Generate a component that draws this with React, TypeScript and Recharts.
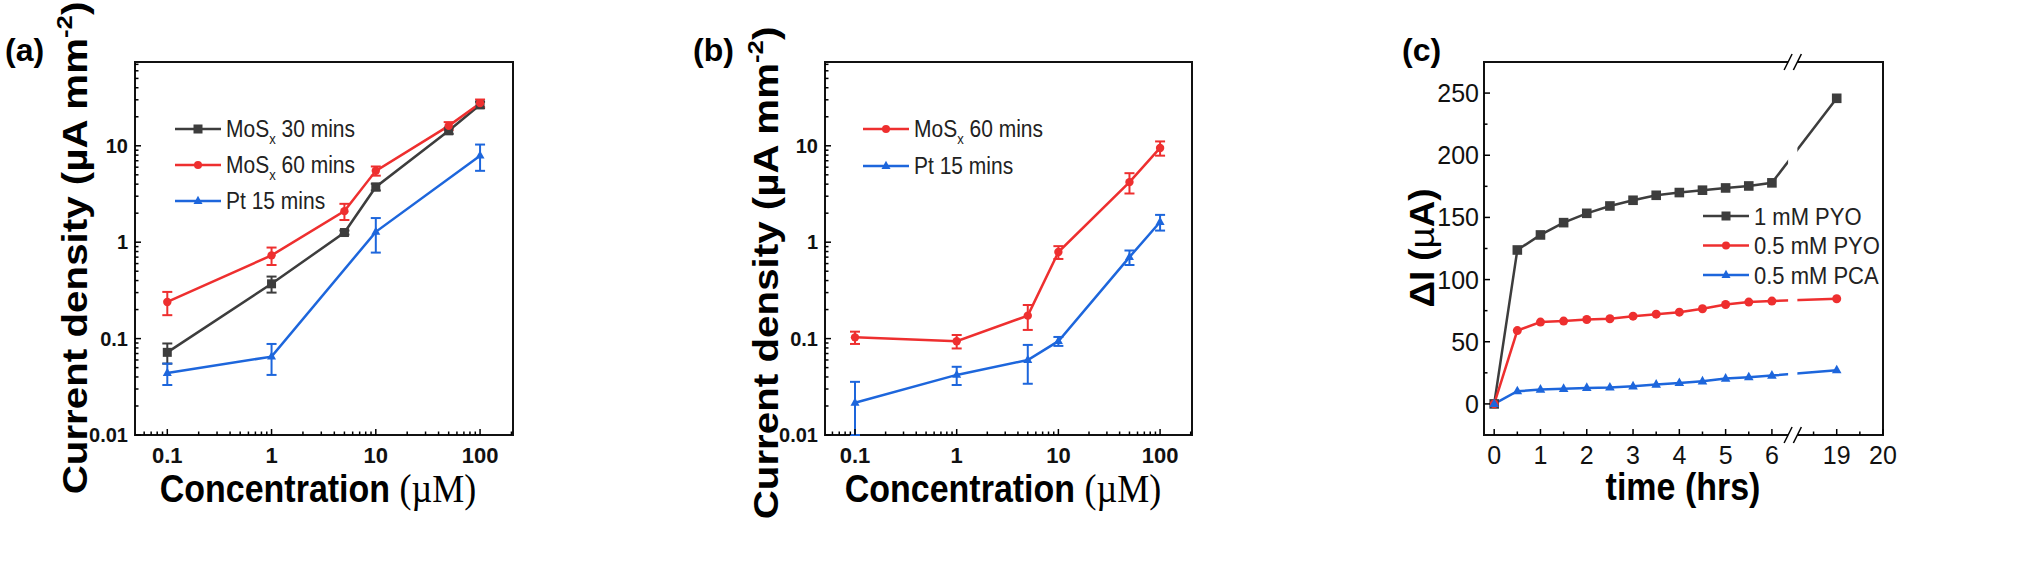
import React from "react";
import { LineChart, Line, XAxis, YAxis, ErrorBar, ReferenceArea } from "recharts";

const BLACK = "#3d3d3d";
const RED = "#ee2f2f";
const BLUE = "#1d66dc";
const SANS = "'Liberation Sans', Arial, sans-serif";
const SERIF = "'Liberation Serif', 'Times New Roman', serif";

// ---- panel (a): concentration (µM) vs current density
const concA = [0.1, 1, 5, 10, 50, 100];
const mos30A = [0.072, 0.37, 1.26, 3.74, 14.3, 26.6];
const mos30AErr = [0.017, 0.07, 0.06, 0.3, 1.0, 2.0];
const mos60A = [0.24, 0.73, 2.1, 5.5, 16.1, 27.7];
const mos60AErr = [0.065, 0.15, 0.4, 0.6, 1.5, 2.5];
const concAPt = [0.1, 1, 10, 100];
const ptA = [0.044, 0.065, 1.28, 7.9];
const ptAErr = [0.011, 0.023, 0.5, 2.4];

// ---- panel (b)
const concB = [0.1, 1, 5, 10, 50, 100];
const mos60B = [0.103, 0.094, 0.173, 0.79, 4.2, 9.5];
const mos60BErr = [0.015, 0.015, 0.05, 0.12, 1.0, 1.6];
const ptB = [0.0216, 0.042, 0.06, 0.094, 0.7, 1.62];
// first bar runs down past the axis, so only the part above 0.01 shows
const ptBErr: (number | [number, number])[] = [[0.0116, 0.014], 0.009, 0.026, 0.01, 0.12, 0.3];

// ---- panel (c): time (hrs) vs ΔI
const timeC = [0, 0.5, 1, 1.5, 2, 2.5, 3, 3.5, 4, 4.5, 5, 5.5, 6, 19];
const pyo1mM = [0, 123.8, 135.9, 145.8, 153.3, 159.2, 163.8, 167.8, 170, 171.9, 173.7, 175.3, 177.8, 245.8];
const pyo05mM = [0, 59, 65.8, 66.6, 67.9, 68.5, 70.6, 72.2, 73.8, 76.5, 80, 81.9, 82.7, 84.6];
const pca05mM = [0, 10.2, 11.5, 12.1, 12.9, 13.2, 14.2, 15.6, 16.9, 18.2, 20.4, 21.5, 22.8, 27.1];

// tick labels
const logMajor = [0.01, 0.1, 1, 10, 100];
const logMinorX = [0.06, 0.07, 0.08, 0.09, 0.2, 0.3, 0.4, 0.5, 0.6, 0.7, 0.8, 0.9, 2, 3, 4, 5, 6, 7, 8, 9, 20, 30, 40, 50, 60, 70, 80, 90, 200];
const logMinorY = [0.02, 0.03, 0.04, 0.05, 0.06, 0.07, 0.08, 0.09, 0.2, 0.3, 0.4, 0.5, 0.6, 0.7, 0.8, 0.9, 2, 3, 4, 5, 6, 7, 8, 9, 20, 30, 40, 50, 60, 70];
const timeMajor = [0, 1, 2, 3, 4, 5, 6, 19, 20];
const timeMinor = [0.5, 1.5, 2.5, 3.5, 4.5, 5.5, 18.5, 19.5];
const currMajor = [0, 50, 100, 150, 200, 250];
const currMinor = [25, 75, 125, 175, 225];

// broken time axis: 6.45 .. 18.05 is cut out
const BRK0 = 6.45;
const BRK1 = 18.05;
const brk = (t: number) => (t > BRK0 ? t - (BRK1 - BRK0) : t);
const unbrk = (t: number) => (t > BRK0 ? t + (BRK1 - BRK0) : t);

const rows = (xs: number[], ys: number[], es?: (number | [number, number])[]) =>
  xs.map((x, i) => ({ x, y: ys[i], e: es ? es[i] : 0 }));

const near = (list: number[], v: number) => list.some((m) => Math.abs(m - v) < 1e-6 * Math.max(1, Math.abs(m)));

function marker(kind: "square" | "circle" | "triangle", color: string, s: number) {
  return (p: any) => {
    const { cx, cy, index } = p;
    if (cx == null || cy == null) return <g key={index} />;
    if (kind === "square")
      return <rect key={index} x={cx - s} y={cy - s} width={2 * s} height={2 * s} fill={color} />;
    if (kind === "circle") return <circle key={index} cx={cx} cy={cy} r={s} fill={color} />;
    return (
      <polygon
        key={index}
        points={`${cx},${cy - s * 1.15} ${cx - s},${cy + s * 0.65} ${cx + s},${cy + s * 0.65}`}
        fill={color}
      />
    );
  };
}

function makeTick(orient: "bottom" | "left", majors: number[], fmt: (v: number) => string, fs: number, fw: string | number, gap: number) {
  return (p: any) => {
    const { x, y, payload } = p;
    const major = near(majors, payload.value);
    const len = major ? 6 : 3.5;
    if (orient === "bottom")
      return (
        <g>
          <line x1={x} x2={x} y1={y} y2={y - len} stroke="#000" strokeWidth={1.5} />
          {major && (
            <text x={x} y={y + gap} textAnchor="middle" fontSize={fs} fontWeight={fw} fontFamily={SANS} fill="#111">
              {fmt(payload.value)}
            </text>
          )}
        </g>
      );
    return (
      <g>
        <line x1={x} x2={x + len} y1={y} y2={y} stroke="#000" strokeWidth={1.5} />
        {major && (
          <text x={x - gap} y={y} dy="0.36em" textAnchor="end" fontSize={fs} fontWeight={fw} fontFamily={SANS} fill="#111">
            {fmt(payload.value)}
          </text>
        )}
      </g>
    );
  };
}

const fmtLog = (v: number) => String(Number(v.toPrecision(3)));

function BreakShape(p: any) {
  const { x, y, width, height } = p;
  const marks: React.ReactNode[] = [];
  [x, x + width].forEach((xx, i) =>
    [y, y + height].forEach((yy, j) =>
      marks.push(<line key={`${i}-${j}`} x1={xx - 4} y1={yy + 8} x2={xx + 4} y2={yy - 8} stroke="#000" strokeWidth={1.5} />)
    )
  );
  return (
    <g>
      <rect x={x} y={y - 4} width={width} height={height + 8} fill="#fff" />
      {marks}
    </g>
  );
}

type Series = { data: any[]; color: string; kind: "square" | "circle" | "triangle" };

const AXW = 60; // y axis band width
const AXH = 40; // x axis band height

function LogPanel({ left, width, margin, xDom, yDom, series }: { left: number; width: number; margin: any; xDom: number[]; yDom: number[]; series: Series[] }) {
  return (
    <div style={{ position: "absolute", left, top: 0 }}>
      <LineChart width={width} height={568} margin={margin}>
        <XAxis
          dataKey="x"
          type="number"
          scale="log"
          domain={xDom}
          allowDataOverflow
          ticks={[...logMajor.filter((v) => v > xDom[0] && v < xDom[1]), ...logMinorX.filter((v) => v > xDom[0] && v < xDom[1])]}
          interval={0}
          height={AXH}
          tickSize={0}
          tickMargin={0}
          axisLine={false}
          tickLine={false}
          tick={makeTick("bottom", logMajor, fmtLog, 22, "bold", 28)}
        />
        <YAxis
          type="number"
          scale="log"
          domain={yDom}
          allowDataOverflow
          ticks={[...logMajor, ...logMinorY].filter((v) => v >= yDom[0] && v < yDom[1])}
          interval={0}
          width={AXW}
          tickSize={0}
          tickMargin={0}
          axisLine={false}
          tickLine={false}
          tick={makeTick("left", logMajor, fmtLog, 20, "bold", 7)}
        />
        <ReferenceArea x1={xDom[0]} x2={xDom[1]} y1={yDom[0]} y2={yDom[1]} fill="none" stroke="#111" strokeWidth={2} fillOpacity={0} />
        {series.map((s, i) => (
          <Line
            key={i}
            data={s.data}
            dataKey="y"
            stroke={s.color}
            strokeWidth={2.5}
            dot={marker(s.kind, s.color, s.kind === "circle" ? 4.2 : 4.5)}
            activeDot={false}
            isAnimationActive={false}
          >
            <ErrorBar dataKey="e" width={5} strokeWidth={2} stroke={s.color} direction="y" isAnimationActive={false} />
          </Line>
        ))}
      </LineChart>
    </div>
  );
}

function LegendRows({ x, y0, dy, fs, items }: { x: number; y0: number; dy: number; fs: number; items: { color: string; kind: "square" | "circle" | "triangle"; label: React.ReactNode }[] }) {
  return (
    <g>
      {items.map((it, i) => {
        const y = y0 + i * dy;
        const m = marker(it.kind, it.color, it.kind === "circle" ? 4 : 4.5);
        return (
          <g key={i}>
            <line x1={x} x2={x + 46} y1={y} y2={y} stroke={it.color} strokeWidth={2.5} />
            {m({ cx: x + 23, cy: y, index: i })}
            <text x={x + 51} y={y} dy="0.36em" fontSize={fs} fontFamily={SANS} fill="#222" transform={`translate(0 ${y}) scale(1 1.12) translate(0 ${-y})`}>
              {it.label}
            </text>
          </g>
        );
      })}
    </g>
  );
}

const mosLabel = (t: string) => (
  <>
    MoS<tspan fontSize={13} dy={6}>x</tspan>
    <tspan dy={-6}>{` ${t}`}</tspan>
  </>
);

const CurrentDensityTitle = ({ x, y }: { x: number; y: number }) => (
  <text transform={`translate(${x},${y}) rotate(-90) scale(1.12 1)`} textAnchor="middle" fontSize={36} fontWeight="bold" fontFamily={SANS}>
    Current density (µA mm<tspan fontSize={23} dy={-15}>-2</tspan>
    <tspan dy={15}>)</tspan>
  </text>
);

const ConcTitle = ({ x, y }: { x: number; y: number }) => (
  <text transform={`translate(${x},${y}) scale(1 1.12)`} textAnchor="middle" fontSize={34} fontWeight="bold" fontFamily={SANS}>
    Concentration <tspan fontFamily={SERIF} fontWeight="normal" fontSize={36}>(µM)</tspan>
  </text>
);

export default function App() {
  const cData = [
    { data: rows(timeC.map(brk), pyo1mM), color: BLACK, kind: "square" as const },
    { data: rows(timeC.map(brk), pyo05mM), color: RED, kind: "circle" as const },
    { data: rows(timeC.map(brk), pca05mM), color: BLUE, kind: "triangle" as const },
  ];
  const cXDom = [-0.22, brk(20)];
  const cYDom = [-25, 275];

  return (
    <div style={{ position: "absolute", left: 0, top: 0, width: 2040, height: 568, background: "#fff", overflow: "hidden" }}>
      <LogPanel
        left={0}
        width={540}
        margin={{ top: 62, right: 27, bottom: 133 - AXH, left: 135 - AXW }}
        xDom={[0.049, 207]}
        yDom={[0.01, 74]}
        series={[
          { data: rows(concA, mos30A, mos30AErr), color: BLACK, kind: "square" },
          { data: rows(concA, mos60A, mos60AErr), color: RED, kind: "circle" },
          { data: rows(concAPt, ptA, ptAErr), color: BLUE, kind: "triangle" },
        ]}
      />
      <LogPanel
        left={690}
        width={530}
        margin={{ top: 62, right: 28, bottom: 133 - AXH, left: 135 - AXW }}
        xDom={[0.0507, 206]}
        yDom={[0.01, 74]}
        series={[
          { data: rows(concB, mos60B, mos60BErr), color: RED, kind: "circle" },
          { data: rows(concB, ptB, ptBErr), color: BLUE, kind: "triangle" },
        ]}
      />
      <div style={{ position: "absolute", left: 1380, top: 0 }}>
        <LineChart width={660} height={568} margin={{ top: 62, right: 157, bottom: 133 - AXH, left: 104 - AXW }}>
          <XAxis
            dataKey="x"
            type="number"
            domain={cXDom}
            allowDataOverflow
            ticks={[...timeMajor, ...timeMinor].map(brk)}
            interval={0}
            height={AXH}
            tickSize={0}
            tickMargin={0}
            axisLine={false}
            tickLine={false}
            tick={makeTick("bottom", timeMajor.map(brk), (v) => String(Math.round(unbrk(v))), 25, "normal", 29)}
          />
          <YAxis
            type="number"
            domain={cYDom}
            allowDataOverflow
            ticks={[...currMajor, ...currMinor]}
            interval={0}
            width={AXW}
            tickSize={0}
            tickMargin={0}
            axisLine={false}
            tickLine={false}
            tick={makeTick("left", currMajor, (v) => String(v), 25, "normal", 5)}
          />
          <ReferenceArea x1={cXDom[0]} x2={cXDom[1]} y1={cYDom[0]} y2={cYDom[1]} fill="none" stroke="#111" strokeWidth={2} fillOpacity={0} />
          {cData.map((s, i) => (
            <Line
              key={i}
              data={s.data}
              dataKey="y"
              stroke={s.color}
              strokeWidth={2.5}
              dot={marker(s.kind, s.color, s.kind === "circle" ? 4.5 : 4.8)}
              activeDot={false}
              isAnimationActive={false}
            />
          ))}
          <ReferenceArea x1={6.35} x2={6.55} y1={cYDom[0]} y2={cYDom[1]} shape={BreakShape} zIndex={2000} />
        </LineChart>
      </div>

      <svg width={2040} height={568} style={{ position: "absolute", left: 0, top: 0, pointerEvents: "none" }}>
        {/* panel letters */}
        <text x={5} y={61} fontSize={32} fontWeight="bold" fontFamily={SANS}>(a)</text>
        <text x={693} y={61} fontSize={32} fontWeight="bold" fontFamily={SANS}>(b)</text>
        <text x={1402} y={61} fontSize={32} fontWeight="bold" fontFamily={SANS}>(c)</text>

        {/* axis titles */}
        <CurrentDensityTitle x={87} y={248} />
        <CurrentDensityTitle x={778} y={273} />
        <text transform="translate(1434,248) rotate(-90) scale(1.05 1)" textAnchor="middle" fontSize={35} fontWeight="bold" fontFamily={SANS}>
          ΔI (<tspan fontWeight="normal">µ</tspan>A)
        </text>
        <ConcTitle x={318} y={502} />
        <ConcTitle x={1003} y={502} />
        <text transform="translate(1683,500) scale(1 1.12)" textAnchor="middle" fontSize={34} fontWeight="bold" fontFamily={SANS}>
          time (hrs)
        </text>

        {/* legends */}
        <LegendRows
          x={175}
          y0={129}
          dy={36}
          fs={21}
          items={[
            { color: BLACK, kind: "square", label: mosLabel("30 mins") },
            { color: RED, kind: "circle", label: mosLabel("60 mins") },
            { color: BLUE, kind: "triangle", label: "Pt 15 mins" },
          ]}
        />
        <LegendRows
          x={863}
          y0={129}
          dy={37}
          fs={21}
          items={[
            { color: RED, kind: "circle", label: mosLabel("60 mins") },
            { color: BLUE, kind: "triangle", label: "Pt 15 mins" },
          ]}
        />
        <LegendRows
          x={1703}
          y0={216}
          dy={29.5}
          fs={22}
          items={[
            { color: BLACK, kind: "square", label: "1 mM PYO" },
            { color: RED, kind: "circle", label: "0.5 mM PYO" },
            { color: BLUE, kind: "triangle", label: "0.5 mM PCA" },
          ]}
        />
      </svg>
    </div>
  );
}
